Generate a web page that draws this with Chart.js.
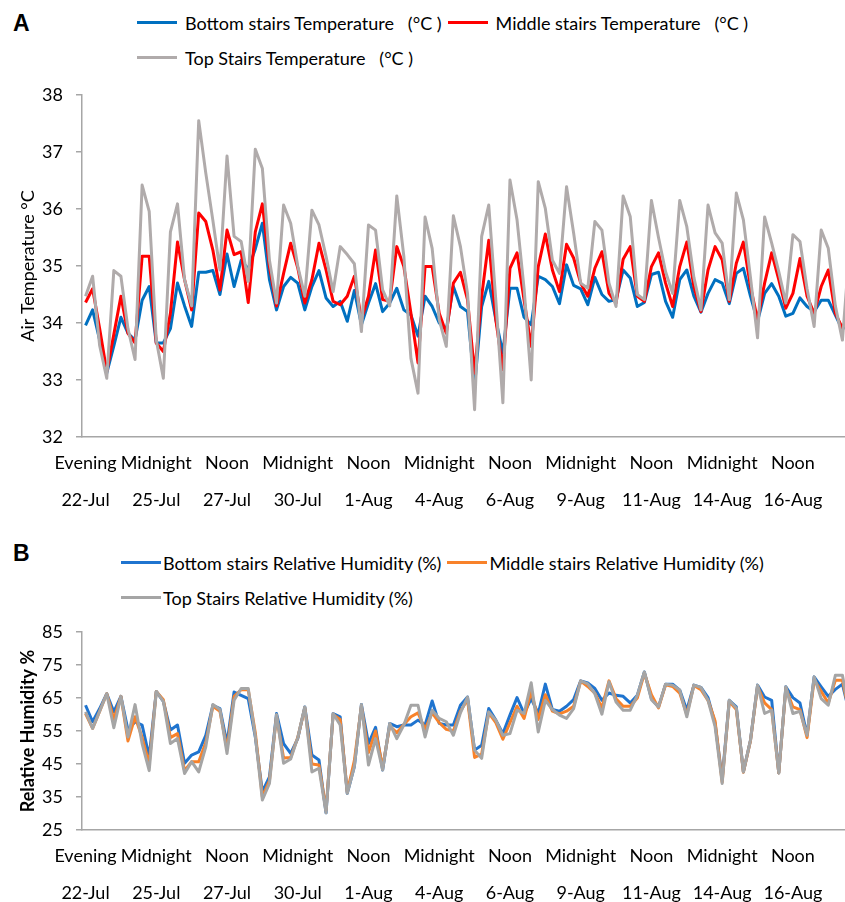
<!DOCTYPE html>
<html>
<head>
<meta charset="utf-8">
<script src="https://cdn.jsdelivr.net/npm/chart.js@4.4.1/dist/chart.umd.min.js"></script>
<style>
  html, body { margin: 0; padding: 0; background: #fff; overflow: hidden; }
  body { width: 845px; height: 902px; position: relative; font-family: Lato, 'Noto Sans', sans-serif; }
  .panel-letter { position: absolute; left: 13px; font: bold 23px 'Liberation Sans', Arial, sans-serif; color: #000; }
  .legend { position: absolute; display: flex; flex-wrap: wrap; font-size: 18px; color: #000; }
  .legend-item { display: flex; align-items: center; height: 35px; white-space: pre; margin-right: 6px; }
  .legend-line { display: inline-block; width: 40px; height: 3px; }
  canvas { position: absolute; left: 0; }
</style>
</head>
<body>
<div class="panel-letter" style="top:10px">A</div>
<div id="legendA" class="legend" style="left:137px; top:5px; width:650px"></div>
<canvas id="chartA" width="866" height="520" style="top:0"></canvas>

<div class="panel-letter" style="top:540px">B</div>
<div id="legendB" class="legend" style="left:121px; top:545px; width:650px"></div>
<canvas id="chartB" width="866" height="372" style="top:530px"></canvas>

<script>
// category labels (one every 10 readings)
const timeLabels = ['Evening', 'Midnight', 'Noon', 'Midnight', 'Noon', 'Midnight', 'Noon', 'Midnight', 'Noon', 'Midnight', 'Noon'];
const dateLabels = ['22-Jul', '25-Jul', '27-Jul', '30-Jul', '1-Aug', '4-Aug', '6-Aug', '9-Aug', '11-Aug', '14-Aug', '16-Aug'];

// air temperature (°C)
const bottomTemp = [
  33.96, 34.23, 33.7, 33.12, 33.6, 34.1, 33.82, 33.7, 34.4, 34.64,
  33.65, 33.65, 33.9, 34.7, 34.3, 33.94, 34.89, 34.89, 34.92, 34.5,
  35.21, 34.64, 35.1, 34.95, 35.3, 35.75, 34.76, 34.23, 34.64, 34.8,
  34.7, 34.23, 34.64, 34.92, 34.44, 34.29, 34.38, 34.03, 34.57, 33.97,
  34.35, 34.69, 34.2, 34.35, 34.61, 34.23, 34.14, 33.77, 34.47, 34.29,
  34.0, 33.88, 34.64, 34.29, 34.2, 32.89, 34.29, 34.73, 34.06, 33.47,
  34.61, 34.61, 34.1, 33.97, 34.82, 34.76, 34.64, 34.34, 35.02, 34.66,
  34.6, 34.32, 34.8, 34.5, 34.38, 34.41, 34.93, 34.79, 34.29, 34.36,
  34.85, 34.89, 34.38, 34.1, 34.76, 34.93, 34.47, 34.19, 34.52, 34.76,
  34.7, 34.34, 34.87, 34.96, 34.47, 34.03, 34.52, 34.69, 34.47, 34.12,
  34.17, 34.44, 34.29, 34.2, 34.4, 34.4, 34.14, 33.88, 34.1
];
const middleTemp = [
  34.36, 34.6, 33.9, 33.15, 33.8, 34.47, 33.82, 33.65, 35.17, 35.17,
  33.65, 33.5, 34.17, 35.42, 34.76, 34.23, 35.93, 35.78, 35.28, 34.58,
  35.63, 35.2, 35.25, 34.36, 35.6, 36.09, 34.99, 34.3, 34.87, 35.4,
  34.97, 34.35, 34.76, 35.4, 34.93, 34.38, 34.32, 34.47, 34.82, 34.06,
  34.47, 35.28, 34.41, 34.38, 35.34, 34.99, 34.17, 33.3, 34.99, 34.99,
  34.17, 33.82, 34.7, 34.89, 34.41, 33.12, 34.47, 35.45, 34.06, 33.18,
  34.96, 35.23, 34.4, 33.59, 34.99, 35.56, 34.93, 34.55, 35.38, 35.14,
  34.7, 34.47, 34.96, 35.25, 34.52, 34.35, 35.12, 35.34, 34.47, 34.38,
  34.99, 35.23, 34.7, 34.29, 34.99, 35.42, 34.64, 34.2, 34.93, 35.34,
  35.11, 34.38, 35.05, 35.42, 34.64, 34.06, 34.7, 35.23, 34.76, 34.26,
  34.52, 35.13, 34.47, 34.17, 34.64, 34.93, 34.17, 33.91, 34.2
];
const topTemp = [
  34.47, 34.82, 33.6, 33.03, 34.92, 34.82, 33.9, 33.36, 36.42, 35.96,
  33.7, 33.03, 35.6, 36.09, 34.76, 34.3, 37.55, 36.63, 35.8, 34.93,
  36.93, 35.52, 35.43, 34.73, 37.05, 36.71, 35.1, 34.35, 36.07, 35.75,
  35.0, 34.47, 35.98, 35.72, 35.17, 34.55, 35.34, 35.2, 35.04, 33.85,
  35.72, 35.63, 34.58, 34.3, 36.23, 35.17, 33.38, 32.77, 35.86, 35.31,
  34.06, 33.59, 35.88, 35.34, 34.52, 32.48, 35.52, 36.07, 34.4, 32.6,
  36.51, 35.81, 34.6, 33.0, 36.48, 36.01, 35.1, 34.87, 36.39, 35.58,
  34.7, 34.61, 35.78, 35.63, 34.7, 34.29, 36.23, 35.87, 34.5, 34.41,
  36.15, 35.5, 34.9, 34.52, 36.15, 35.69, 34.8, 34.23, 36.07, 35.58,
  35.4, 34.41, 36.28, 35.81, 34.8, 33.74, 35.86, 35.4, 34.9, 34.35,
  35.55, 35.43, 34.6, 33.94, 35.63, 35.31, 34.3, 33.7, 35.3
];

// relative humidity (%)
const bottomRH = [
  62.8, 57.8, 61.8, 66.3, 60.8, 65.5, 55.3, 57.8, 56.8, 47.2,
  67.0, 64.0, 55.3, 56.8, 45.2, 47.7, 48.7, 53.7, 62.8, 61.8,
  51.2, 66.8, 65.8, 64.8, 53.2, 36.6, 41.1, 60.3, 51.2, 48.2,
  52.7, 62.3, 47.7, 46.2, 30.2, 60.3, 59.3, 36.1, 44.2, 63.0,
  51.2, 56.1, 43.2, 57.3, 56.3, 56.8, 56.8, 58.3, 56.8, 64.1,
  57.3, 56.8, 56.8, 62.8, 65.3, 49.2, 50.7, 61.8, 58.3, 54.2,
  59.8, 65.1, 60.3, 64.8, 60.3, 69.2, 61.5, 61.0, 62.5, 64.5,
  70.2, 69.6, 67.9, 64.3, 66.5, 65.8, 65.5, 63.5, 65.8, 72.9,
  64.8, 62.3, 69.2, 69.2, 67.4, 61.3, 68.9, 68.2, 65.1, 57.3,
  40.5, 64.3, 62.3, 42.6, 52.2, 68.9, 65.3, 64.3, 42.3, 68.4,
  65.1, 63.5, 53.7, 71.4, 68.4, 65.5, 67.6, 69.2, 60.3
];
const middleRH = [
  60.3, 55.8, 61.0, 66.3, 58.5, 65.5, 52.0, 59.3, 53.0, 45.0,
  67.0, 64.5, 53.0, 54.2, 43.0, 45.7, 45.7, 51.5, 62.5, 61.0,
  49.5, 65.5, 67.5, 67.5, 54.5, 35.0, 40.0, 59.5, 46.8, 47.0,
  53.0, 62.0, 45.0, 44.7, 31.0, 60.0, 58.5, 36.5, 46.0, 62.5,
  48.5, 55.0, 44.0, 56.5, 54.5, 57.0, 59.3, 60.5, 55.5, 60.5,
  57.5, 55.5, 55.0, 61.0, 64.5, 47.0, 48.0, 60.5, 57.5, 52.5,
  57.5, 62.5, 58.8, 67.0, 58.5, 66.0, 61.0, 60.2, 61.0, 62.5,
  70.1, 68.5, 66.5, 62.0, 70.2, 64.8, 62.5, 62.5, 65.0, 72.5,
  66.0, 62.0, 69.0, 68.5, 66.5, 60.0, 68.8, 67.5, 64.3, 58.0,
  39.5, 64.0, 61.5, 42.5, 52.0, 68.5, 63.5, 61.5, 42.3, 68.0,
  62.3, 61.5, 53.0, 70.5, 67.0, 63.5, 70.4, 70.4, 60.3
];
const topRH = [
  60.8, 55.8, 61.0, 66.3, 56.0, 65.5, 53.2, 63.0, 51.2, 43.0,
  67.0, 64.0, 51.2, 52.7, 42.1, 45.7, 42.6, 50.2, 63.0, 61.5,
  48.2, 64.3, 67.9, 67.9, 53.5, 34.1, 39.1, 60.0, 45.2, 46.5,
  53.0, 62.3, 42.6, 43.7, 30.2, 60.3, 56.8, 36.1, 44.2, 63.0,
  44.7, 52.7, 43.2, 57.3, 52.7, 56.8, 62.8, 62.8, 53.2, 61.3,
  58.8, 57.8, 53.7, 60.5, 65.3, 49.2, 46.7, 60.8, 58.3, 53.7,
  54.2, 61.3, 60.3, 69.6, 54.7, 64.3, 61.5, 59.8, 58.8, 61.8,
  70.2, 69.3, 66.3, 60.1, 69.9, 63.8, 61.3, 61.3, 65.8, 72.9,
  64.5, 62.3, 69.2, 68.9, 67.4, 59.3, 68.9, 68.2, 64.3, 56.3,
  39.1, 64.3, 62.0, 42.6, 52.2, 68.9, 60.3, 61.3, 42.3, 68.4,
  60.3, 61.0, 53.7, 71.4, 64.8, 62.8, 71.9, 71.9, 60.3
];

// one category per reading, a two-row label every 10th
const xLabels = bottomTemp.map((v, i) =>
  i % 10 === 0 && timeLabels[i / 10] ? [timeLabels[i / 10], '', dateLabels[i / 10]] : '');

Chart.defaults.font.family = "Lato, 'Noto Sans', sans-serif";
Chart.defaults.color = '#000';

const axisGrey = '#a6a6a6';

function makeChart(id, datasets, yMin, yMax, yStep, yTitle, yBold, topPad, xHeight) {
  return new Chart(document.getElementById(id), {
    type: 'line',
    data: { labels: xLabels, datasets: datasets },
    options: {
      responsive: false,
      animation: false,
      layout: { padding: { top: topPad, left: 0, right: 0, bottom: 0 } },
      elements: {
        point: { radius: 0 },
        line: { borderWidth: 3, tension: 0, borderJoinStyle: 'round' }
      },
      plugins: { legend: { display: false }, tooltip: { enabled: false } },
      scales: {
        x: {
          offset: true,
          grid: { display: false, drawTicks: false },
          border: { display: true, color: axisGrey, width: 1.5 },
          ticks: {
            autoSkip: false, maxRotation: 0, padding: 16.5,
            font: { size: 18, lineHeight: 1.03 }
          },
          afterFit: s => { s.height = xHeight; }
        },
        y: {
          min: yMin, max: yMax,
          grid: { drawOnChartArea: false, drawTicks: true, tickLength: 6, color: axisGrey, lineWidth: 1.5 },
          border: { display: true, color: axisGrey, width: 1.5 },
          ticks: { stepSize: yStep, padding: 13, font: { size: 18 } },
          title: {
            display: true, text: yTitle,
            font: { size: 18, weight: yBold ? 'bold' : 'normal' },
            padding: { top: 17, bottom: 0 }
          },
          afterFit: s => { s.width = 82; }
        }
      }
    }
  });
}

function buildLegend(chart, id, gap) {
  const box = document.getElementById(id);
  chart.data.datasets.forEach(ds => {
    const item = document.createElement('div');
    item.className = 'legend-item';
    item.innerHTML = `<span class="legend-line" style="background:${ds.borderColor};margin-right:${gap}px"></span>${ds.label}`;
    box.appendChild(item);
  });
}

const chartA = makeChart('chartA', [
  { label: 'Bottom stairs Temperature   (°C )', data: bottomTemp, borderColor: '#0070c0', order: 2 },
  { label: 'Middle stairs Temperature   (°C )', data: middleTemp, borderColor: '#ff0000', order: 1 },
  { label: 'Top Stairs Temperature   (°C )', data: topTemp, borderColor: '#b0abab', order: 0 }
], 32, 38, 1, 'Air Temperature °C', false, 95, 83);

const chartB = makeChart('chartB', [
  { label: 'Bottom stairs Relative Humidity (%)', data: bottomRH, borderColor: '#1f74cf', order: 2 },
  { label: 'Middle stairs Relative Humidity (%)', data: middleRH, borderColor: '#f8822a', order: 1 },
  { label: 'Top Stairs Relative Humidity (%)', data: topRH, borderColor: '#a5a5a5', order: 0 }
], 25, 85, 10, 'Relative Humidity %', true, 102, 72);

buildLegend(chartA, 'legendA', 8);
buildLegend(chartB, 'legendB', 2);
</script>
</body>
</html>
